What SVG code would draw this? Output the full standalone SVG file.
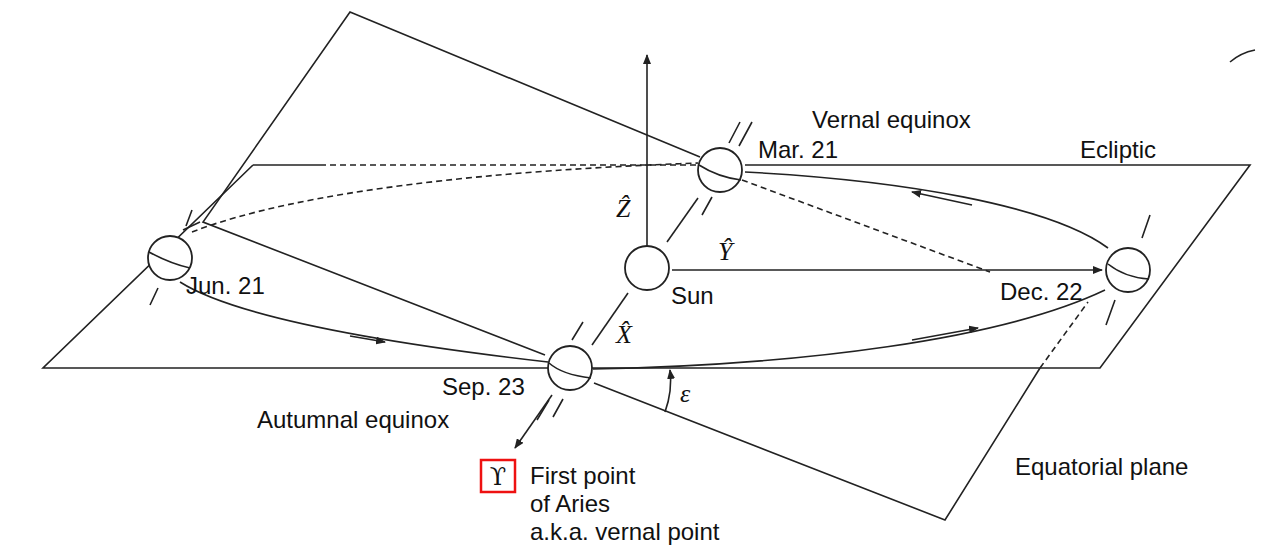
<svg xmlns="http://www.w3.org/2000/svg" width="1288" height="549" viewBox="0 0 1288 549">
<defs>
<marker id="ah" markerWidth="10" markerHeight="8" refX="9" refY="4" orient="auto" markerUnits="userSpaceOnUse"><path d="M0,0 L10,4 L0,8 z" fill="#222"/></marker>
<style>
.l{stroke:#222;stroke-width:1.6;fill:none}
.d{stroke:#222;stroke-width:1.6;fill:none;stroke-dasharray:6,4}
.s{stroke:#222;stroke-width:1.8;fill:#fff}
text{font-family:"Liberation Sans",Arial,sans-serif;font-size:24px;fill:#111}
.m{font-family:"Liberation Serif",serif;font-style:italic;font-size:26px}
</style>
</defs>
<rect width="1288" height="549" fill="#fff"/>
<g id="connectors">
<path class="l" d="M253,165 L43,368 L1100,368 L1250,165 L745,165"/>
<path class="l" d="M253,165 L320,165"/>
<path class="d" d="M320,165 L698,165"/>
<path class="l" d="M700,157 L350,12 L203,222 L545,355"/>
<path class="l" d="M594,383 L945,520 L1040,368"/>
<path class="d" d="M1040,368 L1088,302"/>
<path class="d" d="M742,180 L990,272"/>
<path class="d" d="M192,232 C300,190 500,170 698,163"/>
<path class="l" d="M745,172 C900,180 1050,205 1108,248"/>
<path class="l" d="M1105,290 C1000,340 800,365 593,369"/>
<path class="l" d="M548,362 C400,345 240,320 180,282"/>
<path class="l" marker-end="url(#ah)" d="M972,205 L912,192"/>
<path class="l" marker-end="url(#ah)" d="M350,336 L385,342"/>
<path class="l" marker-end="url(#ah)" d="M912,340 L978,328"/>
<path class="l" marker-end="url(#ah)" d="M647,246 L647,55"/>
<path class="l" marker-end="url(#ah)" d="M672,270 L1102,270"/>
<path class="l" d="M628,293 L592,345"/>
<path class="l" d="M667,242 L698,198"/>
<path class="l" marker-end="url(#ah)" d="M552,395 L515,448"/>
<path class="l" marker-end="url(#ah)" d="M665,412 C670,398 672,386 670,370"/>
<path class="l" d="M583,322 L572,340 M563,399 L553,417 M549,400 L537,420"/>
<path class="l" d="M729,143 L740,122 M739,146 L752,122 M712,197 L702,215"/>
<path class="l" d="M192,210 L186,226 M183,230 L200,222 M158,288 L150,305"/>
<path class="l" d="M1150,215 L1142,238 M1115,300 L1106,325"/>
<path class="l" d="M1230,62 C1238,55 1245,52 1255,50"/>
</g>
<g id="jun"><circle class="s" cx="170" cy="258" r="22"/><path class="l" d="M149,252 C160,258 172,264 190,268"/></g>
<g id="mar"><circle class="s" cx="720" cy="170" r="22"/><path class="l" d="M699,165 C710,172 725,178 741,180"/></g>
<g id="dec"><circle class="s" cx="1128" cy="270" r="22"/><path class="l" d="M1108,264 C1118,272 1132,278 1149,279"/></g>
<g id="sep"><circle class="s" cx="570" cy="368" r="22"/><path class="l" d="M549,363 C558,371 574,376 591,378"/></g>
<g id="sun"><circle class="s" cx="647" cy="268" r="22"/></g>
<g id="labels">
<text x="812" y="128">Vernal equinox</text>
<text x="758" y="158">Mar. 21</text>
<text x="1080" y="158">Ecliptic</text>
<text x="186" y="294">Jun. 21</text>
<text x="671" y="304">Sun</text>
<text x="1000" y="300">Dec. 22</text>
<text x="442" y="395">Sep. 23</text>
<text x="257" y="428">Autumnal equinox</text>
<text x="530" y="484">First point</text>
<text x="530" y="512">of Aries</text>
<text x="530" y="540">a.k.a. vernal point</text>
<text x="1015" y="475">Equatorial plane</text>
<text class="m" x="616" y="217">Ẑ</text>
<text class="m" x="718" y="260">Ŷ</text>
<text class="m" x="616" y="343">X̂</text>
<text class="m" x="680" y="402">ε</text>
<rect x="481" y="460" width="34" height="32" fill="none" stroke="#e11" stroke-width="2.5"/>
<text x="498" y="485" text-anchor="middle" style="font-family:'DejaVu Serif',serif;font-size:24px">ϒ</text>
</g>
</svg>
